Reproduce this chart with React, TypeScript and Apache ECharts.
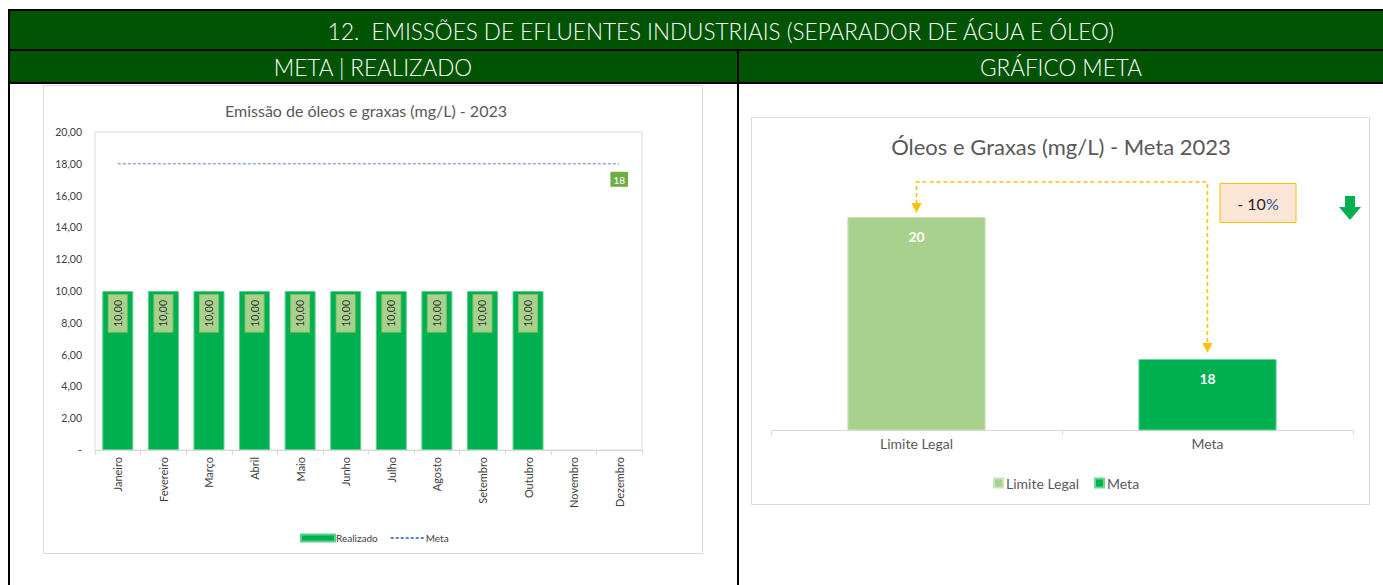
import React, { useEffect, useRef } from "react";
import * as echarts from "echarts";

// ---------- DATA ----------
const months = [
  "Janeiro", "Fevereiro", "Março", "Abril", "Maio", "Junho",
  "Julho", "Agosto", "Setembro", "Outubro", "Novembro", "Dezembro",
];
const realizado: (number | null)[] = [10, 10, 10, 10, 10, 10, 10, 10, 10, 10, null, null];
const metaMensal: number[] = [18, 18, 18, 18, 18, 18, 18, 18, 18, 18, 18, 18];
const leftYMin = 0;
const leftYMax = 20;
const leftYInterval = 2;

const goalCategories = ["Limite Legal", "Meta"];
const limiteLegalValues: (number | string)[] = [20, "-"];
const metaGoalValues: (number | string)[] = ["-", 18];
const reductionLabel = "- 10";

const headerTitle = "12.  EMISSÕES DE EFLUENTES INDUSTRIAIS (SEPARADOR DE ÁGUA E ÓLEO)";
const leftHeader = "META | REALIZADO";
const rightHeader = "GRÁFICO META";
const leftTitle = "Emissão de óleos e graxas (mg/L) - 2023";
const rightTitle = "Óleos e Graxas (mg/L) - Meta 2023";

const FONT = 'Lato, "Noto Sans", "DejaVu Sans", sans-serif';
const HEADER_GREEN = "#005300";

const fmtBR = (v: number) => v.toFixed(2).replace(".", ",");

export default function App() {
  const ref = useRef<HTMLDivElement>(null);

  useEffect(() => {
    if (!ref.current) return;
    const chart = echarts.init(ref.current, null, { renderer: "svg", width: 1383, height: 585 });

    const lastIdx = metaMensal.length - 1;

    const option: any = {
      animation: false,
      textStyle: { fontFamily: FONT },
      grid: [
        { left: 95, top: 132, width: 547, height: 318, show: true, borderColor: "#d9d9d9", borderWidth: 1, backgroundColor: "transparent" },
        { left: 771, top: 146, width: 582, height: 284 },
      ],
      xAxis: [
        {
          type: "category",
          gridIndex: 0,
          data: months,
          axisLine: { lineStyle: { color: "#d9d9d9" } },
          axisTick: { show: true, length: 5, lineStyle: { color: "#d9d9d9" } },
          axisLabel: { interval: 0, rotate: 90, fontSize: 11, color: "#404040", margin: 7, fontFamily: FONT },
        },
        {
          type: "category",
          gridIndex: 1,
          data: goalCategories,
          axisLine: { lineStyle: { color: "#d9d9d9" } },
          axisTick: { show: true, length: 5, lineStyle: { color: "#d9d9d9" } },
          axisLabel: { fontSize: 14, color: "#595959", margin: 6, fontFamily: FONT },
        },
      ],
      yAxis: [
        {
          type: "value",
          gridIndex: 0,
          min: leftYMin,
          max: leftYMax,
          interval: leftYInterval,
          axisLine: { show: false },
          axisTick: { show: false },
          splitLine: { show: false },
          axisLabel: {
            fontSize: 10.5,
            color: "#404040",
            margin: 13,
            fontFamily: FONT,
            formatter: (v: number) => (v === 0 ? "-" : fmtBR(v)),
          },
        },
        { type: "value", gridIndex: 1, min: 17, max: 21, show: false },
      ],
      legend: [
        {
          left: 295,
          top: 528,
          itemWidth: 34,
          itemHeight: 7,
          itemGap: 12,
          selectedMode: false,
          textStyle: { fontSize: 10, color: "#404040", fontFamily: FONT, padding: [0, 0, 0, -4] },
          data: [
            { name: "Realizado", icon: "rect" },
            { name: "Meta", itemStyle: { opacity: 0, borderWidth: 0 } },
          ],
        },
        {
          left: 988,
          top: 471,
          itemWidth: 9,
          itemHeight: 9,
          itemGap: 15,
          icon: "rect",
          selectedMode: false,
          textStyle: { fontSize: 14, color: "#595959", fontFamily: FONT, padding: [0, 0, 0, -2] },
          data: ["Limite Legal", "MetaGoal"],
          formatter: (name: string) => (name === "MetaGoal" ? "Meta" : name),
        },
      ],
      series: [
        {
          name: "Realizado",
          type: "bar",
          xAxisIndex: 0,
          yAxisIndex: 0,
          data: realizado,
          barWidth: "68%",
          itemStyle: { color: "#00B050", borderColor: "#5fcf8e", borderWidth: 1 },
          label: {
            show: true,
            position: "insideTop",
            rotate: 90,
            align: "right",
            verticalAlign: "middle",
            distance: 4,
            formatter: (p: any) => fmtBR(p.value),
            fontSize: 10.5,
            color: "#333333",
            fontFamily: FONT,
            backgroundColor: "#A9D18E",
            borderColor: "#86bf63",
            borderWidth: 1,
            lineHeight: 12,
            padding: [3, 5, 3, 5],
          },
        },
        {
          name: "Meta",
          type: "line",
          xAxisIndex: 0,
          yAxisIndex: 0,
          data: metaMensal,
          symbol: "none",
          lineStyle: { color: "#5B84D0", width: 1, type: [3, 2] },
          itemStyle: { color: "#5B84D0" },
          z: 5,
          markPoint: {
            symbol: "circle",
            symbolSize: 0,
            silent: true,
            data: [
              {
                coord: [lastIdx, metaMensal[lastIdx]],
                value: metaMensal[lastIdx],
                label: {
                  show: true,
                  position: "bottom",
                  distance: 8,
                  formatter: "{c}",
                  backgroundColor: "#70AD47",
                  color: "#ffffff",
                  fontSize: 10,
                  fontFamily: FONT,
                  padding: [3, 3, 2, 3],
                },
              },
            ],
          },
        },
        {
          name: "Limite Legal",
          type: "bar",
          xAxisIndex: 1,
          yAxisIndex: 1,
          data: limiteLegalValues,
          barWidth: "47.5%",
          barGap: "-100%",
          itemStyle: { color: "#A9D18E", borderColor: "#c9e3b8", borderWidth: 1 },
          label: { show: true, position: "insideTop", distance: 12, color: "#ffffff", fontWeight: "bold", fontSize: 14, fontFamily: FONT },
        },
        {
          name: "MetaGoal",
          type: "bar",
          xAxisIndex: 1,
          yAxisIndex: 1,
          data: metaGoalValues,
          barWidth: "47.5%",
          barGap: "-100%",
          itemStyle: { color: "#00B050", borderColor: "#6fd69a", borderWidth: 1 },
          label: { show: true, position: "insideTop", distance: 12, color: "#ffffff", fontWeight: "bold", fontSize: 14, fontFamily: FONT },
        },
      ],
    };

    chart.setOption(option);

    const pL = chart.convertToPixel({ xAxisIndex: 1, yAxisIndex: 1 } as any, [0, limiteLegalValues[0] as number]) as number[];
    const pM = chart.convertToPixel({ xAxisIndex: 1, yAxisIndex: 1 } as any, [1, metaGoalValues[1] as number]) as number[];
    const lineY = pL[1] - 35;
    const orange = "#FFC000";

    const headerText = (text: string, x: number, y: number) => ({
      type: "text",
      x,
      y,
      style: { text, fill: "#ffffff", fontSize: 22.5, fontFamily: FONT, fontWeight: 300, align: "center", verticalAlign: "middle" },
    });

    const graphic: any[] = [
      // header frame
      { type: "rect", shape: { x: 8, y: 9, width: 1375, height: 75 }, style: { fill: "#000000" } },
      { type: "rect", shape: { x: 10, y: 11, width: 1373, height: 38 }, style: { fill: HEADER_GREEN } },
      { type: "rect", shape: { x: 10, y: 51, width: 727, height: 31 }, style: { fill: HEADER_GREEN } },
      { type: "rect", shape: { x: 739, y: 51, width: 644, height: 31 }, style: { fill: HEADER_GREEN } },
      { type: "rect", shape: { x: 8, y: 84, width: 2, height: 501 }, style: { fill: "#000000" } },
      { type: "rect", shape: { x: 737, y: 84, width: 2, height: 501 }, style: { fill: "#000000" } },
      headerText(headerTitle, 721, 31),
      headerText(leftHeader, 373, 67),
      headerText(rightHeader, 1061, 67),
      // chart boxes
      { type: "rect", shape: { x: 43.5, y: 85.5, width: 659, height: 468 }, style: { fill: "transparent", stroke: "#d9d9d9", lineWidth: 1 } },
      { type: "rect", shape: { x: 751.5, y: 117.5, width: 618, height: 387 }, style: { fill: "transparent", stroke: "#d9d9d9", lineWidth: 1 } },
      // titles
      { type: "text", x: 366, y: 110, style: { text: leftTitle, fill: "#595959", fontSize: 16, fontFamily: FONT, align: "center", verticalAlign: "middle" } },
      { type: "text", x: 1061, y: 146, style: { text: rightTitle, fill: "#595959", fontSize: 22, fontFamily: FONT, align: "center", verticalAlign: "middle" } },
      // dashed connector
      {
        type: "polyline",
        z: 10,
        shape: { points: [[pL[0], pL[1] - 13], [pL[0], lineY], [pM[0], lineY], [pM[0], pM[1] - 15]] },
        style: { stroke: orange, lineWidth: 1.5, lineDash: [4, 3], fill: "none" },
      },
      { type: "polygon", z: 10, shape: { points: [[pL[0] - 5, pL[1] - 14], [pL[0] + 5, pL[1] - 14], [pL[0], pL[1] - 4]] }, style: { fill: orange } },
      { type: "polygon", z: 10, shape: { points: [[pM[0] - 5, pM[1] - 16], [pM[0] + 5, pM[1] - 16], [pM[0], pM[1] - 6]] }, style: { fill: orange } },
      // reduction box
      { type: "rect", z: 10, shape: { x: pM[0] + 12.5, y: lineY + 1.5, width: 76, height: 39 }, style: { fill: "#FBE5D6", stroke: orange, lineWidth: 1 } },
      {
        type: "text",
        z: 11,
        x: pM[0] + 50.5,
        y: lineY + 21,
        style: {
          text: "{a|" + reductionLabel + "}{b|%}",
          align: "center",
          verticalAlign: "middle",
          rich: {
            a: { fontSize: 16, fill: "#262626", fontFamily: FONT },
            b: { fontSize: 16, fill: "#2F5597", fontFamily: FONT },
          },
        },
      },
      // green down arrow
      {
        type: "polygon",
        z: 10,
        shape: { points: [[1345, 196], [1355, 196], [1355, 207], [1361, 207], [1350, 220], [1339, 207], [1345, 207]] },
        style: { fill: "#00B050" },
      },
    ];

    chart.setOption({ graphic });

    return () => chart.dispose();
  }, []);

  return <div ref={ref} style={{ position: "absolute", left: 0, top: 0, width: 1383, height: 585 }} />;
}
